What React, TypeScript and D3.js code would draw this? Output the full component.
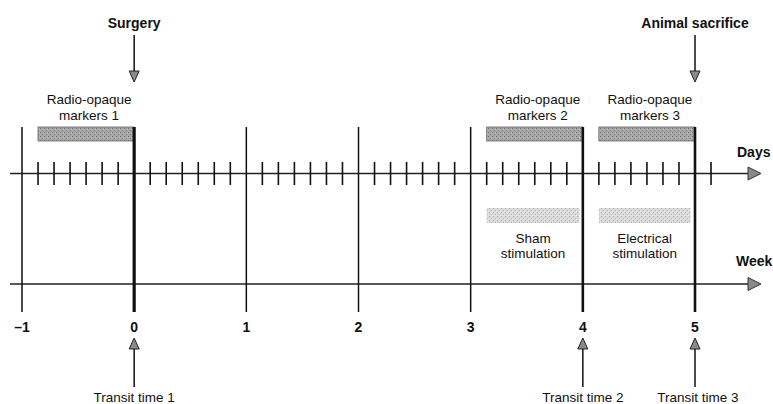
import React from "react";
import * as d3 from "d3";

const weeks = [-1, 0, 1, 2, 3, 4, 5];
const weekLabels = ["\u20131", "0", "1", "2", "3", "4", "5"];
const boldWeeks = [0, 4, 5];
const dayTicks = d3.range(-6, 37).filter((d) => d % 7 !== 0);

const markerLabels = ["markers 1", "markers 2", "markers 3"];
const markerStart = [-6 / 7, 3 + 1 / 7, 4 + 1 / 7];
const markerEnd = [0, 4, 5];

const stimLabels1 = ["Sham", "Electrical"];
const stimLabels2 = ["stimulation", "stimulation"];
const stimStart = [3 + 1 / 7, 4 + 1 / 7];
const stimEnd = [3.97, 4.96];

const topEvents = ["Surgery", "Animal sacrifice"];
const topEventWeeks = [0, 5];

const transitLabels = ["Transit time 1", "Transit time 2", "Transit time 3"];
const transitWeeks = [0, 4, 5];
const transitTextOffset = [0, 0, 3];

const FONT = "'Liberation Sans', Arial, Helvetica, sans-serif";

export default function App() {
  const x = d3.scaleLinear().domain([-1, 5]).range([22, 695]);
  const xDay = (d: number) => x(d / 7);

  const dayY = 173.5;
  const weekY = 284;
  const vTop = 127;
  const vBot = 312;
  const axisStart = 10;
  const axisEnd = 761;

  const arrowRight = (y: number) =>
    `M${axisEnd - 13},${y - 6.5} L${axisEnd},${y} L${axisEnd - 13},${y + 6.5} Z`;

  return (
    <svg
      width={773}
      height={404}
      style={{ position: "absolute", left: 0, top: 0, background: "#fff" }}
      fontFamily={FONT}
    >
      <defs>
        <pattern id="stipDark" width="4" height="4" patternUnits="userSpaceOnUse">
          <rect width="4" height="4" fill="#a8a8a8" />
          <rect x="0" y="0" width="1" height="1" fill="#6e6e6e" />
          <rect x="2" y="2" width="1" height="1" fill="#7a7a7a" />
          <rect x="3" y="1" width="1" height="1" fill="#c4c4c4" />
        </pattern>
        <pattern id="stipLight" width="4" height="4" patternUnits="userSpaceOnUse">
          <rect width="4" height="4" fill="#dadada" />
          <rect x="1" y="0" width="1" height="1" fill="#b0b0b0" />
          <rect x="3" y="2" width="1" height="1" fill="#bababa" />
          <rect x="0" y="3" width="1" height="1" fill="#f0f0f0" />
        </pattern>
      </defs>

      {/* marker bars */}
      {markerStart.map((s, i) => (
        <rect
          key={"m" + i}
          x={x(s)}
          y={127}
          width={x(markerEnd[i]) - x(s)}
          height={14}
          fill="url(#stipDark)"
          stroke="#666"
          strokeWidth={0.8}
        />
      ))}
      {/* stimulation bars */}
      {stimStart.map((s, i) => (
        <rect
          key={"s" + i}
          x={x(s)}
          y={208}
          width={x(stimEnd[i]) - x(s)}
          height={15}
          fill="url(#stipLight)"
        />
      ))}

      {/* days axis */}
      <line x1={axisStart} x2={axisEnd - 11} y1={dayY} y2={dayY} stroke="#222" strokeWidth={1.4} />
      <path d={arrowRight(dayY)} fill="#8a8a8a" stroke="#333" strokeWidth={1} />
      {dayTicks.map((d) => (
        <line key={"d" + d} x1={xDay(d)} x2={xDay(d)} y1={162} y2={185} stroke="#111" strokeWidth={1.6} />
      ))}

      {/* week axis */}
      <line x1={axisStart} x2={axisEnd - 11} y1={weekY} y2={weekY} stroke="#222" strokeWidth={1.4} />
      <path d={arrowRight(weekY)} fill="#8a8a8a" stroke="#333" strokeWidth={1} />

      {/* week verticals */}
      {weeks.map((w) => (
        <line
          key={"w" + w}
          x1={x(w)}
          x2={x(w)}
          y1={vTop}
          y2={vBot}
          stroke="#111"
          strokeWidth={boldWeeks.includes(w) ? (w === 0 ? 3.2 : 2.6) : 1.5}
        />
      ))}
      {weeks.map((w, i) => (
        <text
          key={"wl" + w}
          x={x(w)}
          y={332}
          textAnchor="middle"
          fontWeight="bold"
          fontSize={14}
          fill="#111"
        >
          {weekLabels[i]}
        </text>
      ))}

      {/* axis titles */}
      <text x={737} y={157} fontWeight="bold" fontSize={14} fill="#111">Days</text>
      <text x={736} y={266} fontWeight="bold" fontSize={14} fill="#111">Week</text>

      {/* marker labels */}
      {markerStart.map((s, i) => {
        const cx = (x(s) + x(markerEnd[i])) / 2;
        return (
          <g key={"ml" + i} fontSize={13.5} fill="#111" textAnchor="middle">
            <text x={cx + 3} y={104}>Radio-opaque</text>
            <text x={cx + 3} y={120}>{markerLabels[i]}</text>
          </g>
        );
      })}

      {/* stimulation labels */}
      {stimStart.map((s, i) => {
        const cx = (x(s) + x(stimEnd[i])) / 2;
        return (
          <g key={"sl" + i} fontSize={13.5} fill="#111" textAnchor="middle">
            <text x={cx} y={243}>{stimLabels1[i]}</text>
            <text x={cx} y={258}>{stimLabels2[i]}</text>
          </g>
        );
      })}

      {/* top events */}
      {topEvents.map((t, i) => {
        const ex = x(topEventWeeks[i]);
        return (
          <g key={"te" + i}>
            <text x={ex} y={28} textAnchor="middle" fontWeight="bold" fontSize={14} fill="#111">
              {t}
            </text>
            <line x1={ex} x2={ex} y1={35} y2={72} stroke="#111" strokeWidth={1.5} />
            <path
              d={`M${ex - 5},${71} L${ex + 5},${71} L${ex},${82} Z`}
              fill="#8a8a8a"
              stroke="#222"
              strokeWidth={1}
            />
          </g>
        );
      })}

      {/* transit times */}
      {transitWeeks.map((w, i) => {
        const ex = x(w);
        return (
          <g key={"tt" + i}>
            <line x1={ex} x2={ex} y1={348} y2={387} stroke="#111" strokeWidth={1.5} />
            <path
              d={`M${ex - 5},${349} L${ex + 5},${349} L${ex},${338} Z`}
              fill="#8a8a8a"
              stroke="#222"
              strokeWidth={1}
            />
            <text
              x={ex + transitTextOffset[i]}
              y={402}
              textAnchor="middle"
              fontSize={13.5}
              fill="#111"
            >
              {transitLabels[i]}
            </text>
          </g>
        );
      })}
    </svg>
  );
}
